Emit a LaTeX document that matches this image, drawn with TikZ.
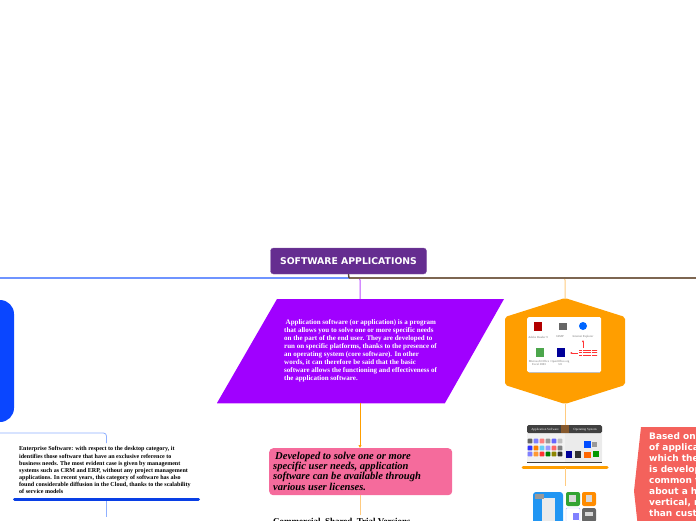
\documentclass[tikz,border=0pt]{standalone}
\usepackage{fontspec}
\setmainfont{Liberation Serif}
\newfontfamily\widesans{DejaVu Sans}
\usetikzlibrary{positioning, arrows.meta}
\definecolor{RootPurple}{HTML}{652D90}
\definecolor{BusBlue}{HTML}{6F94FF}
\definecolor{BusBrown}{HTML}{7D6651}
\definecolor{Violet}{HTML}{A000FF}
\definecolor{VioletEdge}{HTML}{E3A6FF}
\definecolor{Amber}{HTML}{FF9E00}
\definecolor{AmberLight}{HTML}{FFCB80}
\definecolor{Rose}{HTML}{F56B9C}
\definecolor{Coral}{HTML}{F4625C}
\definecolor{Royal}{HTML}{0A46FF}
\definecolor{Sky}{HTML}{8FB0FF}
\definecolor{DocBlue}{HTML}{2196F3}
\tikzset{
    rootnode/.style={rectangle, rounded corners=3pt, fill=RootPurple, draw=RootPurple!80!white, text=white, minimum width=156pt, minimum height=26pt, inner sep=0pt, font=\widesans\bfseries\fontsize{9.3}{10}\selectfont},
    desctext/.style={anchor=north west, inner sep=0pt, align=left, text=white, font=\bfseries\fontsize{7}{8}\selectfont},
    enttext/.style={anchor=north west, inner sep=0pt, align=left, text=black, font=\bfseries\fontsize{6.05}{7.1}\selectfont},
    rosenode/.style={anchor=north west, rectangle, rounded corners=4pt, fill=Rose, minimum width=183pt, minimum height=47pt},
    rosetext/.style={anchor=north west, inner sep=0pt, align=left, text=black, font=\bfseries\itshape\fontsize{10.55}{10.45}\selectfont},
    coraltext/.style={anchor=north west, inner sep=0pt, align=left, text=white, font=\widesans\bfseries\fontsize{9}{11}\selectfont},
    tinytext/.style={inner sep=0pt, align=center, text=black!55, font=\fontsize{3}{3.4}\selectfont},
    headtext/.style={inner sep=0pt, text=white, font=\fontsize{3.2}{4}\selectfont},
    link/.style={line width=1pt, color=AmberLight},
    bar/.style={line width=3pt, line cap=round},
    icon/.style={rounded corners=0.8pt},
}
\begin{document}
\begin{tikzpicture}[x=1pt, y=-1pt]
    \useasboundingbox (0,0) rectangle (696,520);
    \clip (0,0) rectangle (696,520);

    % Root
    \node[rootnode] (root) at (348.5,261) {SOFTWARE APPLICATIONS};
    \coordinate (hub) at (349,278);
    \coordinate (busL) at (0,278);
    \coordinate (busR) at (696,278);

    % Main shapes
    \coordinate (descTop) at (360,299);
    \coordinate (descBot) at (360,403);
    \coordinate (hexTop) at (565,299);
    \coordinate (hexBot) at (565,404);
    \fill[Violet] (277,299) -- (504,299) -- (445,403) -- (217,403) -- cycle;
    \draw[VioletEdge, line width=0.6pt] (217,403) -- (445,403);
    \fill[Amber, rounded corners=2pt] (565,298) -- (625,317) -- (625,385) -- (565,404) -- (505,385) -- (505,317) -- cycle;
    \fill[Royal, rounded corners=14pt] (-30,300) rectangle (14,422);
    \fill[Coral] (641,427) -- (710,427) -- (710,555) -- (641,555) -- (634,491) -- cycle;

    % Bus lines
    \draw[Violet!70!white, line width=1pt, rounded corners=2pt] (hub) -| (descTop);
    \draw[link, rounded corners=2pt] (hub) -| (hexTop);
    \draw[BusBlue, line width=1.2pt] (hub) -- (busL);
    \draw[BusBrown, line width=1.2pt] (hub) -- (busR);
    \draw[BusBrown!70!black, line width=1.4pt] (root.south) -- (hub);

    % Description
    \node[desctext] (desc) at (284,319.8) {\hspace{1.5pt}Application software (or application) is a program\\
        that allows you to solve one or more specific needs\\
        on the part of the end user. They are developed to\\
        run on specific platforms, thanks to the presence of\\
        an operating system (core software). In other\\
        words, it can therefore be said that the basic\\
        software allows the functioning and effectiveness of\\
        the application software.};

    % Licences
    \node[rosenode] (licence) at (269,448) {};
    \node[rosetext] (licencetext) at (273,451.5) {\hspace{2pt}Developed to solve one or more\\
        specific user needs, application\\
        software can be available through\\
        various user licenses.};
    \draw[-{Latex[length=3pt,width=3.5pt]}, Amber, line width=0.8pt] (descBot) -- (licence.north -| descBot);
    \coordinate (licenceEnd) at (360,515);
    \draw[link] (licence.south -| descBot) -- (licenceEnd);
    \node[anchor=north west, inner sep=0pt, font=\bfseries\fontsize{9}{10}\selectfont] (trial) at (273,518) {Commercial, Shared, Trial Versions, ...};

    % Enterprise
    \coordinate (entL) at (0,433);
    \coordinate (entTop) at (106.5,443);
    \coordinate (entBot) at (106.5,517);
    \coordinate (barA) at (14.5,499);
    \coordinate (barB) at (198.5,499);
    \draw[Sky, line width=0.8pt, rounded corners=3pt] (entL) -| (entTop);
    \draw[Sky, line width=0.8pt] (barB -| entBot) -- (entBot);
    \draw[bar, color=Royal!90!black] (barA) -- (barB);
    \node[enttext] (enterprise) at (19,446.5) {Enterprise Software: with respect to the desktop category, it\\
        identifies those software that have an exclusive reference to\\
        business needs. The most evident case is given by management\\
        systems such as CRM and ERP, without any project management\\
        applications. In recent years, this category of software has also\\
        found considerable diffusion in the Cloud, thanks to the scalability\\
        of service models};

    % Desktop panel
    \node[anchor=north west, fill=white, rounded corners=1.5pt, minimum width=74pt, minimum height=55pt, inner sep=0pt] (panel) at (527,317) {};
    \draw[black!25, line width=0.4pt] (529,372) -- (600,372);
    \fill[red!70!black] (534,322) rectangle (542,331);
    \fill[black!60] (559,323) rectangle (567,330);
    \fill[blue!60!cyan] (583,326) circle (4pt);
    \fill[green!50!black!70] (536,348) rectangle (544,357);
    \fill[blue!60!black] (557,348) rectangle (565,357);
    \node[tinytext] (lblA) at (538,337) {Adobe Reader 9};
    \node[tinytext] (lblB) at (560,337) {GIMP};
    \node[tinytext] (lblC) at (583,337) {Internet Explorer};
    \node[tinytext] (lblD) at (539,363) {Microsoft Office\\Excel 2003};
    \node[tinytext] (lblE) at (560,363) {OpenOffice.org\\3.0};
    \foreach \ny in {350,352.5,355} \draw[red!80, line width=0.8pt, dash pattern=on 1.5pt off 0.3pt] (579,\ny) -- (597,\ny);
    \draw[-{Latex[length=2pt,width=2pt]}, red!80, line width=0.5pt] (583,348) -- (583,340);
    \draw[-{Latex[length=2pt,width=2pt]}, red!80, line width=0.5pt] (578,353) -- (570,353);
    \coordinate (hexBelow) at (565,425);
    \draw[link] (hexBot) -- (hexBelow);

    % App and OS picture
    \fill[black!5, rounded corners=1.5pt] (527,425) rectangle (602,463);
    \fill[black!8] (565,433) rectangle (602,462);
    \fill[black!75, rounded corners=1.5pt] (527,425) rectangle (602,433);
    \fill[black!75] (527,461.5) rectangle (602,463);
    \fill[brown!70!black] (561,425) rectangle (569,433);
    \node[headtext] (appsoft) at (545,429.5) {Application Software};
    \node[headtext] (opsys) at (585,429.5) {Operating System};
    \foreach \nx/\ny/\ncol in {530/441/black!60, 536/441/blue!50, 542/441/red!50, 548/441/black!40, 554/441/blue!60, 560/441/black!25,
        530/448/blue!80, 536/448/orange, 542/448/cyan!60, 548/448/blue!40, 554/448/red!60, 560/448/black!50,
        530/454/blue!50, 536/454/orange!80, 542/454/red!80, 548/454/green!50!black, 554/454/olive, 560/454/black!80}
        \fill[icon, color=\ncol] (\nx-2.4,\ny-2.4) rectangle (\nx+2.4,\ny+2.4);
    \fill[blue!70!cyan] (584,441) rectangle (591,448);
    \fill[black!40] (592,442) rectangle (597,447);
    \fill[blue!60!black] (565.5,451) rectangle (572,458);
    \fill[black!80] (575,451) rectangle (581,458);
    \fill[orange!80!red] (584,452) rectangle (591,458);
    \fill[green!60!black] (593,451) rectangle (599,457);
    \coordinate (barC) at (523,467);
    \coordinate (barD) at (607,467);
    \coordinate (barBelow) at (565,486);
    \draw[bar, color=Amber] (barC) -- (barD);
    \draw[link] (565,468) -- (barBelow);

    % Icon group
    \fill[DocBlue, rounded corners=3pt] (533,492) rectangle (563,525);
    \fill[white!92!black] (542,498) rectangle (555,525);
    \fill[black!40] (535,494) rectangle (544,499);
    \fill[green!55!black!80, rounded corners=2pt] (566,492) rectangle (580,506);
    \fill[white!85!black] (569,495) rectangle (576,502);
    \fill[orange!90!yellow, rounded corners=2pt] (582,492) rectangle (596,506);
    \fill[white!85!black] (586,495) rectangle (592,502);
    \fill[white, draw=blue!30, rounded corners=1pt] (566,508) rectangle (580,522);
    \fill[blue!50] (573,513) rectangle (579,520);
    \fill[black!60, rounded corners=2pt] (582,508) rectangle (596,522);
    \fill[white!85!black] (585,512) rectangle (593,516);

    % Coral text
    \node[coraltext] (types) at (649,432.5) {Based on the\\
        of application\\
        which the\\
        is developed\\
        common to\\
        about a high\\
        vertical, rather\\
        than custom};
\end{tikzpicture}
\end{document}
